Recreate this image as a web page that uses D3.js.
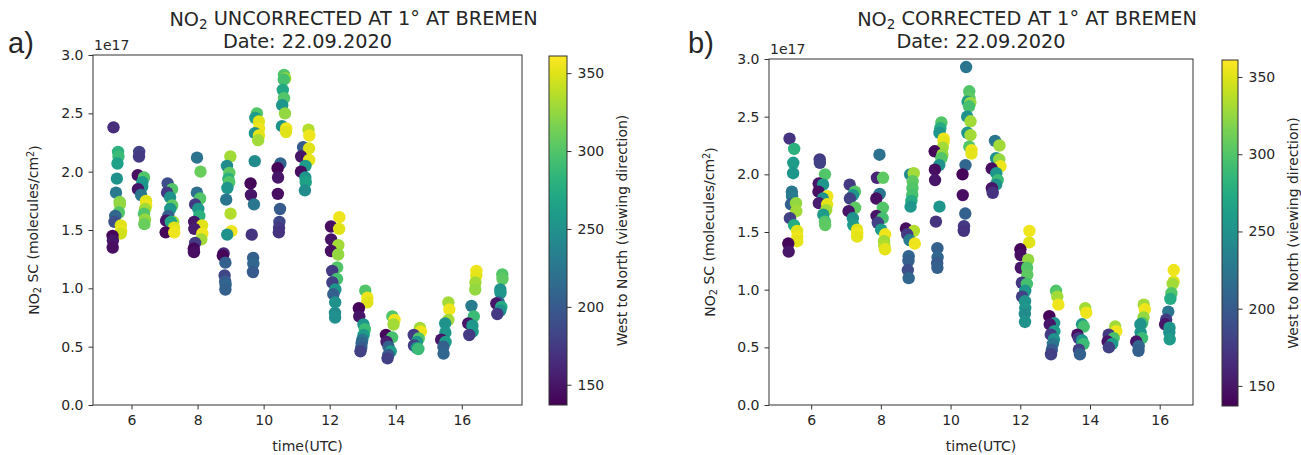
<!DOCTYPE html>
<html>
<head>
<meta charset="utf-8">
<script src="https://cdn.jsdelivr.net/npm/d3@7"></script>
<style>
body { margin: 0; background: #fff; }
text { font-family: "DejaVu Sans", sans-serif; fill: #262626; }
</style>
</head>
<body>
<script>
// scan start (hour UTC) of each azimuth scan
var startA = [5.42, 6.18, 7.03, 7.88, 8.76, 9.6, 10.42, 11.12, 12.03, 12.88, 13.7, 14.5, 15.36, 16.18, 17.03]
var startB = [5.34, 6.2, 7.06, 7.86, 8.71, 9.54, 10.34, 11.17, 12.0, 12.83, 13.63, 14.49, 15.31, 16.14]

// [viewing azimuth, NO2 SC / 1e17] for each scan
var uncorrected = [
  [[165,2.38],[280,2.17],[290,2.13],[265,2.07],[250,1.94],[228,1.82],[320,1.74],[325,1.72],[300,1.65],[210,1.62],[190,1.57],[350,1.54],[355,1.49],[345,1.47],[140,1.45],[150,1.41],[145,1.35]],
  [[180,2.17],[175,2.13],[145,1.97],[300,1.95],[260,1.91],[255,1.87],[150,1.85],[225,1.80],[350,1.75],[355,1.71],[330,1.68],[300,1.64],[325,1.59],[310,1.55]],
  [[190,1.90],[300,1.85],[175,1.82],[250,1.78],[305,1.71],[255,1.68],[205,1.62],[150,1.58],[330,1.57],[270,1.57],[350,1.52],[140,1.48],[355,1.48]],
  [[222,2.12],[310,2.0],[220,1.82],[300,1.77],[175,1.72],[255,1.68],[280,1.62],[150,1.57],[350,1.54],[155,1.51],[355,1.47],[330,1.42],[175,1.39],[140,1.34],[145,1.31]],
  [[330,2.13],[245,2.05],[305,1.99],[280,1.94],[300,1.91],[255,1.86],[225,1.76],[335,1.64],[355,1.49],[250,1.46],[160,1.30],[140,1.28],[205,1.22],[185,1.11],[200,1.06],[210,1.03],[205,0.99]],
  [[300,2.5],[260,2.46],[350,2.43],[355,2.37],[250,2.33],[352,2.31],[330,2.27],[245,2.09],[140,1.9],[150,1.80],[225,1.72],[170,1.46],[205,1.26],[210,1.21],[200,1.14]],
  [[300,2.83],[330,2.80],[295,2.79],[270,2.70],[300,2.63],[255,2.57],[325,2.5],[250,2.39],[355,2.37],[350,2.34],[210,2.07],[140,2.03],[150,1.95],[145,1.81],[200,1.68],[185,1.57],[175,1.52],[170,1.48]],
  [[335,2.36],[355,2.31],[200,2.21],[350,2.2],[150,2.13],[352,2.1],[260,2.05],[145,2.0],[255,1.95],[265,1.91],[245,1.84]],
  [[355,1.61],[145,1.53],[350,1.51],[148,1.42],[330,1.37],[145,1.32],[325,1.29],[300,1.18],[175,1.15],[295,1.08],[180,1.05],[255,0.99],[205,0.95],[250,0.88],[245,0.79],[248,0.75]],
  [[300,0.98],[355,0.92],[350,0.88],[140,0.83],[150,0.76],[255,0.69],[290,0.65],[260,0.6],[225,0.56],[210,0.53],[200,0.49],[180,0.46]],
  [[300,0.76],[355,0.73],[330,0.69],[140,0.60],[295,0.58],[155,0.54],[205,0.50],[260,0.46],[200,0.43],[180,0.40]],
  [[330,0.66],[355,0.63],[175,0.6],[300,0.57],[255,0.54],[180,0.51],[250,0.49],[290,0.48]],
  [[330,0.88],[355,0.82],[330,0.73],[250,0.70],[255,0.62],[150,0.56],[260,0.54],[205,0.50],[210,0.44]],
  [[355,1.15],[352,1.11],[330,1.05],[325,0.99],[230,0.85],[290,0.76],[150,0.7],[255,0.68],[260,0.63],[175,0.6]],
  [[300,1.12],[305,1.08],[250,0.99],[255,0.96],[210,0.88],[150,0.87],[275,0.84],[250,0.81],[175,0.78]]
]
var corrected = [
  [[170,2.31],[280,2.22],[260,2.10],[255,2.01],[225,1.85],[230,1.81],[205,1.74],[325,1.75],[330,1.68],[180,1.62],[275,1.56],[350,1.51],[355,1.46],[352,1.42],[140,1.40],[150,1.33]],
  [[175,2.13],[180,2.10],[300,2.0],[150,1.92],[255,1.91],[145,1.85],[355,1.81],[250,1.79],[155,1.75],[352,1.74],[330,1.69],[260,1.65],[300,1.59],[305,1.56]],
  [[175,1.91],[300,1.85],[255,1.82],[180,1.79],[305,1.71],[150,1.68],[250,1.62],[260,1.56],[350,1.52],[355,1.49],[352,1.46]],
  [[220,2.17],[160,1.97],[305,1.97],[225,1.83],[145,1.79],[300,1.71],[150,1.64],[295,1.62],[180,1.58],[260,1.52],[355,1.48],[330,1.42],[335,1.38],[352,1.35]],
  [[245,2.0],[330,2.01],[305,1.94],[300,1.88],[295,1.82],[275,1.77],[255,1.72],[145,1.53],[335,1.51],[175,1.48],[230,1.43],[355,1.40],[210,1.29],[205,1.25],[190,1.17],[210,1.10]],
  [[300,2.45],[275,2.40],[255,2.36],[355,2.31],[352,2.28],[330,2.23],[140,2.2],[325,2.17],[300,2.14],[250,2.08],[145,2.04],[150,1.95],[255,1.72],[170,1.59],[205,1.36],[210,1.28],[200,1.23],[205,1.19]],
  [[225,2.93],[300,2.72],[305,2.66],[260,2.63],[325,2.62],[295,2.59],[250,2.5],[330,2.46],[255,2.36],[330,2.34],[300,2.24],[355,2.21],[352,2.18],[210,2.08],[140,2.0],[145,1.82],[205,1.66],[175,1.55],[170,1.51]],
  [[225,2.29],[330,2.25],[250,2.14],[325,2.13],[355,2.07],[145,2.05],[255,2.01],[290,1.95],[250,1.91],[150,1.88],[170,1.84]],
  [[355,1.51],[350,1.41],[140,1.35],[145,1.30],[325,1.26],[150,1.19],[300,1.19],[305,1.13],[175,1.06],[295,1.05],[255,0.99],[180,0.94],[250,0.90],[255,0.84],[245,0.79],[250,0.72]],
  [[300,0.99],[330,0.94],[355,0.87],[140,0.77],[255,0.71],[150,0.70],[260,0.64],[175,0.61],[250,0.57],[225,0.53],[200,0.48],[180,0.44]],
  [[330,0.84],[355,0.80],[255,0.70],[295,0.68],[145,0.61],[175,0.58],[255,0.56],[290,0.53],[180,0.48],[205,0.44]],
  [[330,0.68],[355,0.64],[175,0.61],[295,0.58],[150,0.55],[260,0.53],[180,0.5]],
  [[330,0.87],[355,0.83],[325,0.76],[295,0.71],[250,0.70],[255,0.63],[290,0.58],[150,0.55],[210,0.51],[205,0.47]],
  [[355,1.17],[352,1.07],[330,1.05],[300,0.97],[275,0.92],[225,0.81],[175,0.74],[150,0.70],[255,0.67],[250,0.63],[260,0.57]]
]

var xTicksA = [6, 8, 10, 12, 14, 16]
var yTicks = [0, 0.5, 1.0, 1.5, 2.0, 2.5, 3.0]
var cTicks = [150, 200, 250, 300, 350]
var azRange = [137, 361]
var scanLength = 0.27   // hours one scan takes

var width = 1301, height = 455

var svg = d3.select("body").append("svg")
    .attr("width", width)
    .attr("height", height)

var color = d3.scaleSequential(d3.interpolateViridis).domain(azRange)

var grad = svg.append("defs").append("linearGradient")
    .attr("id", "viridis")
    .attr("x1", 0).attr("y1", 1).attr("x2", 0).attr("y2", 0)
grad.selectAll("stop")
    .data(d3.range(0, 1.0001, 0.05))
    .enter().append("stop")
    .attr("offset", function(d) { return d })
    .attr("stop-color", function(d) { return d3.interpolateViridis(d) })

function flatten(starts, scans) {
    var out = []
    scans.forEach(function(scan, i) {
        scan.forEach(function(p) {
            out.push({
                t: starts[i] + (p[0] - azRange[0]) / (azRange[1] - azRange[0]) * scanLength,
                az: p[0],
                v: p[1]
            })
        })
    })
    return out
}

function no2Text(sel, word) {
    sel.append("tspan").text("NO")
    sel.append("tspan").attr("font-size", "0.7em").attr("dy", "0.25em").text("2")
    sel.append("tspan").attr("dy", "-0.25em").text(word)
}

function panel(c) {
    var pts = flatten(c.starts, c.scans)
    var ext = d3.extent(pts, function(d) { return d.t })
    var pad = (ext[1] - ext[0]) * 0.05

    var x = d3.scaleLinear().domain([ext[0] - pad, ext[1] + pad]).range([c.left, c.right])
    var y = d3.scaleLinear().domain([0, 3]).range([c.bottom, c.top])

    var g = svg.append("g")

    g.selectAll("circle")
        .data(pts)
        .enter()
        .append("circle")
        .attr("cx", function(d) { return x(d.t) })
        .attr("cy", function(d) { return y(d.v) })
        .attr("r", 6.2)
        .attr("fill", function(d) { return color(d.az) })

    g.append("rect")
        .attr("x", c.left).attr("y", c.top)
        .attr("width", c.right - c.left).attr("height", c.bottom - c.top)
        .attr("fill", "none").attr("stroke", "#333").attr("stroke-width", 1)

    var xa = g.append("g")
        .attr("transform", "translate(0," + c.bottom + ")")
        .call(d3.axisBottom(x).tickValues(xTicksA).tickSize(4.5).tickPadding(6).tickFormat(d3.format("d")))
    var ya = g.append("g")
        .attr("transform", "translate(" + c.left + ",0)")
        .call(d3.axisLeft(y).tickValues(yTicks).tickSize(4.5).tickPadding(5).tickFormat(d3.format(".1f")))
    ;[xa, ya].forEach(function(a) {
        a.select(".domain").remove()
        a.selectAll("line").attr("stroke", "#333")
        a.selectAll("text").style("font-size", "14px").attr("fill", "#262626")
            .style("font-family", "DejaVu Sans")
    })

    g.append("text")
        .attr("x", c.left + 1).attr("y", c.top - 5)
        .style("font-size", "14px")
        .text("1e17")

    var mid = (c.left + c.right) / 2
    var t1 = g.append("text")
        .attr("x", mid + 46).attr("y", 26)
        .attr("text-anchor", "middle")
        .style("font-size", "19.3px")
    no2Text(t1, " " + c.title)
    g.append("text")
        .attr("x", mid).attr("y", 48)
        .attr("text-anchor", "middle")
        .style("font-size", "19.3px")
        .text("Date: 22.09.2020")

    g.append("text")
        .attr("x", mid).attr("y", 451)
        .attr("text-anchor", "middle")
        .style("font-size", "14px")
        .text("time(UTC)")

    var yl = g.append("text")
        .attr("transform", "translate(" + (c.left - 54) + "," + ((c.top + c.bottom) / 2) + ") rotate(-90)")
        .attr("text-anchor", "middle")
        .style("font-size", "14px")
    yl.append("tspan").text("NO")
    yl.append("tspan").attr("font-size", "0.7em").attr("dy", "0.25em").text("2")
    yl.append("tspan").attr("dy", "-0.25em").text(" SC (molecules/cm")
    yl.append("tspan").attr("font-size", "0.7em").attr("dy", "-0.45em").text("2")
    yl.append("tspan").attr("dy", "0.45em").text(")")

    g.append("text")
        .attr("x", c.tagX).attr("y", 53)
        .style("font-family", "Liberation Sans, Arial, sans-serif")
        .style("font-size", "29px")
        .attr("fill", "#000")
        .text(c.tag)

    // colorbar
    var cy = d3.scaleLinear().domain(azRange).range([c.cbBottom, c.cbTop])
    g.append("rect")
        .attr("x", c.cbLeft).attr("y", c.cbTop)
        .attr("width", c.cbWidth).attr("height", c.cbBottom - c.cbTop)
        .attr("fill", "url(#viridis)")
        .attr("stroke", "#333").attr("stroke-width", 1)
    var ca = g.append("g")
        .attr("transform", "translate(" + (c.cbLeft + c.cbWidth) + ",0)")
        .call(d3.axisRight(cy).tickValues(cTicks).tickSize(4.5).tickPadding(6))
    ca.select(".domain").remove()
    ca.selectAll("line").attr("stroke", "#333")
    ca.selectAll("text").style("font-size", "14px").attr("fill", "#262626")
        .style("font-family", "DejaVu Sans")

    g.append("text")
        .attr("transform", "translate(" + c.cbLabelX + "," + ((c.cbTop + c.cbBottom) / 2) + ") rotate(-90)")
        .attr("text-anchor", "middle")
        .style("font-size", "14px")
        .text("West to North (viewing direction)")
}

panel({
    starts: startA, scans: uncorrected, title: "UNCORRECTED AT 1° AT BREMEN", tag: "a)", tagX: 8,
    left: 93, right: 522, top: 55, bottom: 405,
    cbLeft: 549, cbWidth: 18, cbTop: 56, cbBottom: 405, cbLabelX: 627
})
panel({
    starts: startB, scans: corrected, title: "CORRECTED AT 1° AT BREMEN", tag: "b)", tagX: 688,
    left: 769, right: 1193, top: 59, bottom: 405,
    cbLeft: 1222, cbWidth: 16, cbTop: 60, cbBottom: 406, cbLabelX: 1298
})
</script>
</body>
</html>
